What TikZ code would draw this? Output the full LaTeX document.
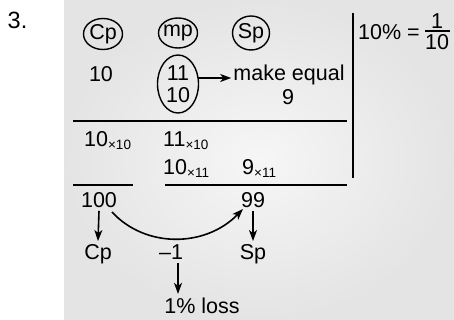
\documentclass[tikz,border=0pt]{standalone}
\usepackage{fontspec}
\setmainfont{Liberation Sans}
\usetikzlibrary{arrows.meta,shapes.geometric}
\begin{document}
\begin{tikzpicture}[x=1pt,y=-1pt,
  txt/.style={inner sep=0pt,font=\fontsize{21.5}{24}\selectfont},
  ring/.style={draw,line width=1.4pt},
  rule/.style={line width=1.8pt},
  arr/.style={line width=1.6pt,-{Stealth[length=11pt,width=8pt,inset=3pt]}}]
\useasboundingbox (0,0) rectangle (454,320);
\shade[inner color={rgb,255:red,246;green,246;blue,246},outer color={rgb,255:red,228;green,228;blue,228}] (64,0) rectangle (454,320);
\newcommand{\sbx}[1]{\raisebox{-2.5pt}{\fontsize{13.5}{13.5}\selectfont ×#1}}
% numbering
\node[txt,font=\fontsize{23.5}{26}\selectfont] (num) at (17.5,20) {3.};
% header rings
\node[txt] (cp) at (103,34) {Cp};
\node[txt] (mp) at (178,33) {mp};
\node[txt] (sp) at (251,33) {Sp};
\draw[ring] (cp) ellipse [x radius=19.5, y radius=15.5];
\draw[ring] (mp) ellipse [x radius=19.5, y radius=15];
\draw[ring] (sp) ellipse [x radius=18.5, y radius=17];
% first row
\node[txt] (c10) at (101,74) {10};
\node[txt] (m11) at (178,73) {11};
\node[txt] (m10) at (178,95) {10};
\node[draw,line width=1.4pt,ellipse,minimum width=41pt,minimum height=58pt,inner sep=0pt] (pair) at (178,84) {};
\node[txt] (meq) at (289,75) {make equal};
\node[txt] (s9) at (288,97) {9};
\coordinate (pairR) at (198,78);
\draw[arr] (pairR) -- ([xshift=-2pt]meq.west |- pairR);
% rules
\coordinate (r1a) at (73,121); \coordinate (r1b) at (347,121);
\draw[rule] (r1a) -- (r1b);
\coordinate (va) at (353,13); \coordinate (vb) at (353,178);
\draw[rule] (va) -- (vb);
% 10% = 1/10
\node[txt] (pct) at (389,32) {10\% =};
\node[txt] (fn) at (437,21) {1};
\node[txt] (fd) at (437,42) {10};
\coordinate (fba) at (425,31); \coordinate (fbb) at (450,31);
\draw[line width=1.4pt] (fba) -- (fbb);
% multiplied rows
\node[txt,anchor=base west] (a1) at (84,147) {10\sbx{10}};
\node[txt,anchor=base west] (a2) at (163,147) {11\sbx{10}};
\node[txt,anchor=base west] (b1) at (163,175) {10\sbx{11}};
\node[txt,anchor=base west] (b2) at (242,175) {9\sbx{11}};
\coordinate (r2a) at (165,185); \coordinate (r2b) at (347,185);
\draw[rule] (r2a) -- (r2b);
\coordinate (r3a) at (73,185); \coordinate (r3b) at (133,185);
\draw[rule] (r3a) -- (r3b);
% results
\node[txt] (h100) at (99,200) {100};
\node[txt] (n99) at (253,200) {99};
\node[txt] (cp2) at (98,254) {Cp};
\node[txt] (sp2) at (253,254) {Sp};
\node[txt] (m1) at (171,252) {–1};
\node[txt] (loss) at (202,306) {1\% loss};
\draw[arr] (h100.south) ++(0,3) -- ([yshift=3pt]cp2.north);
\draw[arr] (n99.south) ++(0,3) -- ([yshift=3pt]sp2.north);
\coordinate (cs) at (112,212); \coordinate (ce) at (243,209);
\draw[arr] (cs) .. controls (145,248) and (205,248) .. (ce);
\coordinate (m1b) at (178,263);
\draw[arr] (m1b) -- ([yshift=4pt]loss.north -| m1b);
\end{tikzpicture}
\end{document}
